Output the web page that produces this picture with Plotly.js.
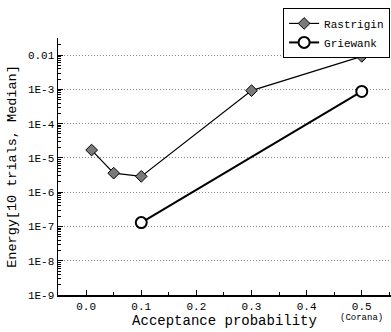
<!DOCTYPE html>
<html>
<head>
<meta charset="utf-8">
<script src="https://cdn.plot.ly/plotly-3.0.1.min.js"></script>
<style>html,body{margin:0;padding:0;background:#fff}#chart{width:391px;height:332px}</style>
</head>
<body>
<div id="chart"></div>
<script>
// Data
const seriesNames = ["Rastrigin", "Griewank"];
const rastriginX = [0.01, 0.05, 0.1, 0.3, 0.5];
const rastriginY = [1.7e-5, 3.6e-6, 2.9e-6, 9.2e-4, 9.2e-3];
const griewankX = [0.1, 0.5];
const griewankY = [1.3e-7, 8.7e-4];
const xTickVals = [0, 0.1, 0.2, 0.3, 0.4, 0.5];
const xTickText = ["0.0", "0.1", "0.2", "0.3", "0.4", "0.5"];
const yTickVals = [1e-9, 1e-8, 1e-7, 1e-6, 1e-5, 1e-4, 1e-3, 1e-2];
const yTickText = ["1E-9", "1E-8", "1E-7", "1E-6", "1E-5", "1E-4", "1E-3", "0.01"];
const xTitle = "Acceptance probability";
const yTitle = "Energy[10 trials, Median]";
const noteText = "(Corana)";

const FONT = "Liberation Mono, DejaVu Sans Mono, monospace";

// minor log ticks (2..9 within each decade) derived from the major decades
const yMinorVals = [];
for (const d of yTickVals.concat([1e-1])) {
  for (let m = 2; m <= 9; m++) yMinorVals.push(d * m);
}

const traces = [
  {
    x: rastriginX, y: rastriginY, name: seriesNames[0],
    mode: "lines+markers", type: "scatter",
    line: {color: "#000", width: 1.2},
    marker: {symbol: "diamond", size: 9, color: "#7a7a7a", line: {color: "#000", width: 1}}
  },
  {
    x: griewankX, y: griewankY, name: seriesNames[1],
    mode: "lines+markers", type: "scatter",
    line: {color: "#000", width: 2},
    marker: {symbol: "circle", size: 11, color: "#fff", line: {color: "#000", width: 2}}
  }
];

const layout = {
  width: 391, height: 332,
  margin: {l: 58, r: 0, t: 38, b: 37},
  paper_bgcolor: "#fff", plot_bgcolor: "#fff",
  font: {family: FONT, color: "#000", size: 11},
  showlegend: true,
  legend: {
    x: 0.676, xanchor: "left", y: 1.117, yanchor: "top",
    bgcolor: "#fff", bordercolor: "#000", borderwidth: 1,
    font: {family: FONT, size: 11, color: "#000"},
    tracegroupgap: 0, itemsizing: "trace"
  },
  xaxis: {
    range: [-0.051, 0.553],
    tickmode: "array", tickvals: xTickVals, ticktext: xTickText,
    ticks: "inside", ticklen: 5, tickwidth: 1, tickcolor: "#000",
    minor: {dtick: 0.05, tick0: 0, ticks: "inside", ticklen: 3, tickwidth: 1, tickcolor: "#000", showgrid: false},
    showline: true, linecolor: "#000", linewidth: 1.5,
    showgrid: false, zeroline: false,
    tickfont: {family: FONT, size: 11},
    title: {text: xTitle, font: {family: FONT, size: 14}, standoff: 2}
  },
  yaxis: {
    type: "log", range: [-9, -1.5],
    tickmode: "array", tickvals: yTickVals, ticktext: yTickText,
    ticks: "inside", ticklen: 5, tickwidth: 1, tickcolor: "#000",
    minor: {tickmode: "array", tickvals: yMinorVals, ticks: "inside", ticklen: 3, tickwidth: 1, tickcolor: "#000", showgrid: false},
    showline: true, linecolor: "#000", linewidth: 1.5,
    showgrid: true, gridcolor: "#888", griddash: "1px,2px", gridwidth: 1,
    zeroline: false,
    tickfont: {family: FONT, size: 11},
    title: {text: yTitle, font: {family: FONT, size: 13.5}, standoff: 8}
  },
  annotations: [
    {
      text: noteText, x: 0.5, xref: "x", y: -0.088, yref: "paper",
      xanchor: "center", yanchor: "middle", showarrow: false,
      font: {family: FONT, size: 9, color: "#000"}
    }
  ]
};

Plotly.newPlot("chart", traces, layout, {displayModeBar: false, staticPlot: true});
</script>
</body>
</html>
